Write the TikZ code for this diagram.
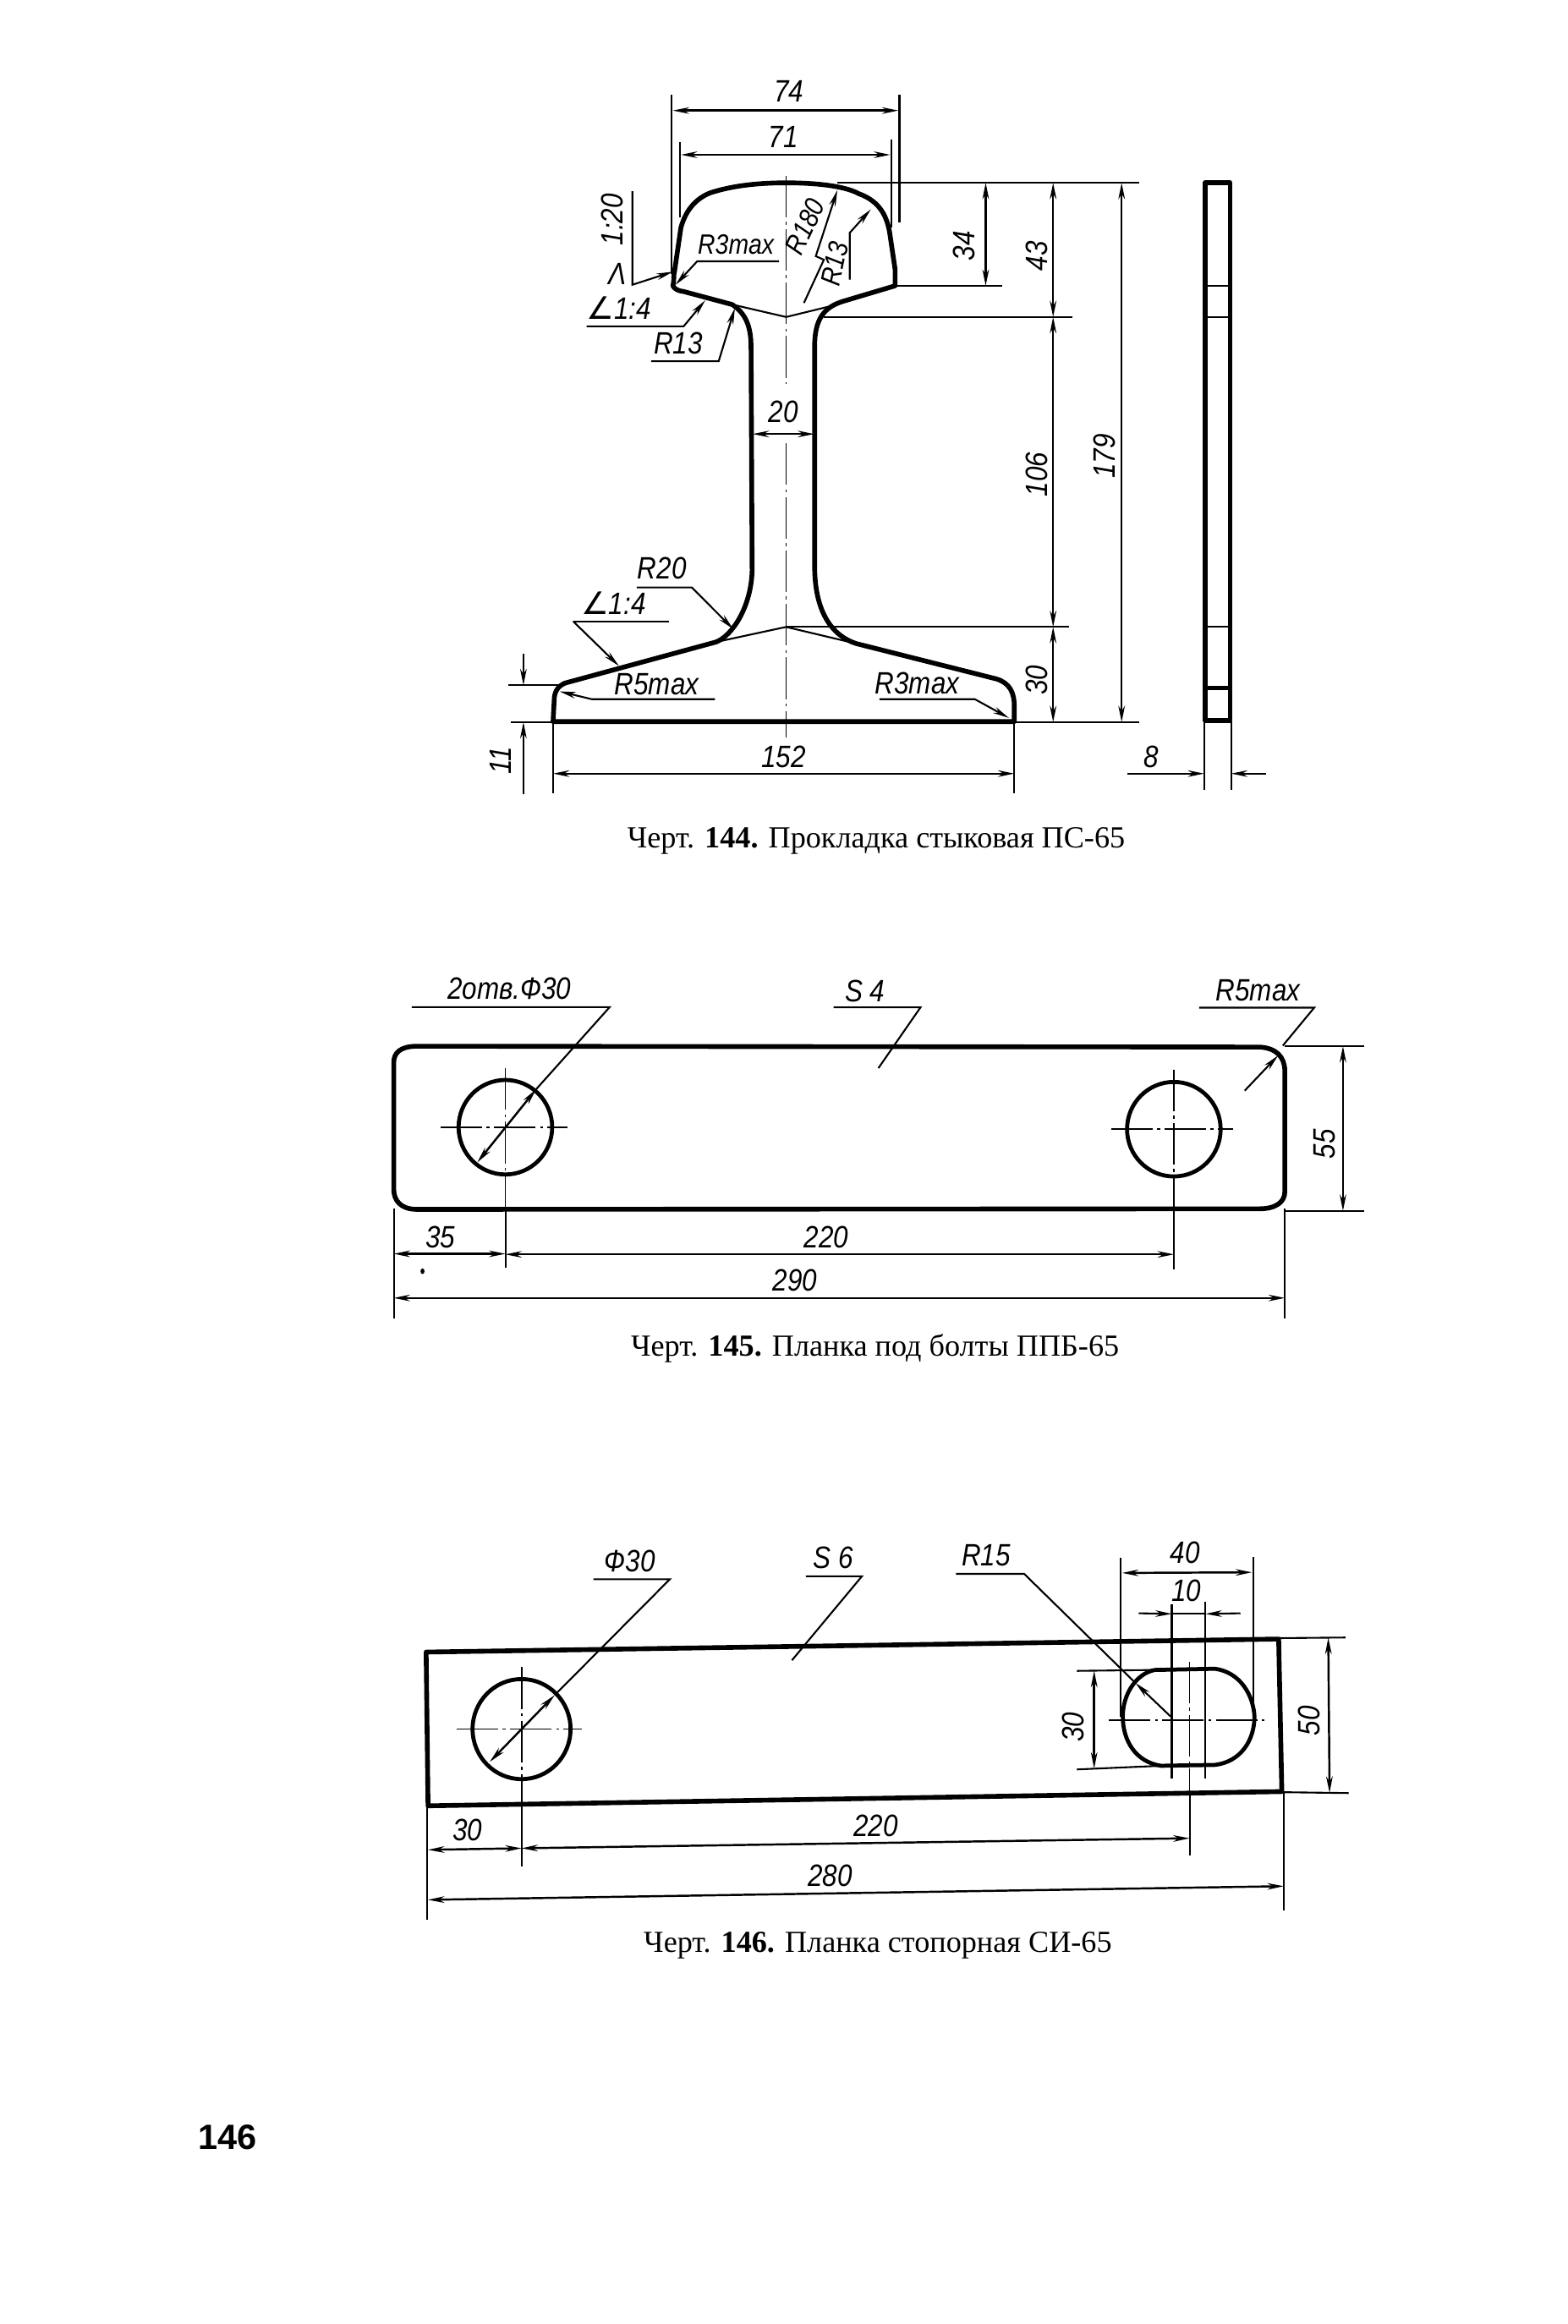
\documentclass[tikz,border=0pt]{standalone}
\usepackage{fontspec}
\setmainfont{Liberation Serif}
\setsansfont{Liberation Sans}[FakeStretch=0.86]
\newfontfamily\pagef{Liberation Sans}
\newfontfamily\symf{DejaVu Sans}
\usetikzlibrary{arrows.meta}
\tikzset{
  contour/.style={line width=1.6pt,line join=round,black},
  contourb/.style={line width=1.35pt,line join=round,black},
  thin line/.style={line width=0.6pt,black},
  centre line/.style={line width=0.5pt,black,dash pattern=on 14pt off 1.5pt on 1pt off 1.5pt},
  dimline/.style={line width=0.7pt,black,{Stealth[length=5.5pt,width=2.2pt]}-{Stealth[length=5.5pt,width=2.2pt]}},
  arrowline/.style={line width=0.6pt,black,-{Stealth[length=5.5pt,width=2.2pt]}},
  dimtxt/.style={font=\fontsize{10.4}{12}\selectfont\sffamily\itshape,inner sep=0pt},
  dimtxts/.style={font=\fontsize{9.4}{11}\selectfont\sffamily\itshape,inner sep=0pt},
  caption/.style={font=\fontsize{10.3}{12}\selectfont\rmfamily,inner sep=0pt},
}
\begin{document}
\begin{tikzpicture}
\path[use as bounding box,fill=white] (0,0) rectangle (18.53cm,-27.48cm);

% ---------- Drawing 144
\begin{scope}[shift={(5.5cm,-0.6cm)},x=0.00638cm,y=-0.00615cm]
\draw[contour] (385,452) .. controls (388,440) and (386,430) .. (388,425)
 -- (400,340) .. controls (408,310) and (425,285) .. (455,273)
 .. controls (500,258) and (550,254) .. (595,254)
 .. controls (640,254) and (700,258) .. (730,275)
 .. controls (770,290) and (782,320) .. (787,350)
 -- (797,420) -- (797,452)
 -- (700,482) .. controls (670,492) and (650,510) .. (648,560)
 -- (648,1000) .. controls (650,1080) and (680,1125) .. (725,1140)
 -- (985,1208) .. controls (1010,1216) and (1018,1235) .. (1018,1260)
 -- (1018,1290) -- (163,1290) -- (165,1250) .. controls (165,1232) and (172,1222) .. (185,1216)
 -- (465,1137) .. controls (495,1125) and (530,1070) .. (532,1000)
 -- (530,570) .. controls (530,530) and (520,505) .. (495,488)
 -- (405,463) .. controls (395,462) and (388,458) .. (385,452) -- cycle;
\draw[contour] (1372,254) rectangle (1418,1288);
\draw[contourb] (1372,1225) -- (1418,1225);
\foreach \yy in {452,512,1108} \draw[thin line] (1372,\yy) -- (1418,\yy);

% centre and construction lines
\draw[centre line] (595,240) -- (595,640);
\draw[centre line] (595,755) -- (595,1320);
\draw[thin line] (495,488) -- (595,512) -- (690,488);
\draw[thin line] (465,1137) -- (595,1108) -- (725,1140);
\draw[thin line] (690,254) -- (1250,254);
\draw[thin line] (797,452) -- (995,452);
\draw[thin line] (665,512) -- (1125,512);
\draw[thin line] (595,1108) -- (1120,1108);
\draw[thin line] (1018,1291) -- (1250,1291);
\draw[thin line] (383,85) -- (383,430);
\draw[thin line] (805,85) -- (805,330);
\draw[thin line] (398,175) -- (398,320);
\draw[thin line] (790,170) -- (790,340);
\draw[thin line] (163,1290) -- (163,1428);
\draw[thin line] (1018,1290) -- (1018,1428);
\draw[thin line] (80,1220) -- (178,1220);
\draw[thin line] (85,1291) -- (163,1291);
\draw[thin line] (1370,1290) -- (1370,1422);
\draw[thin line] (1420,1290) -- (1420,1422);

% dimensions
\draw[dimline] (385,115) -- (803,115);
\draw[dimline] (400,200) -- (788,200);
\draw[dimline] (965,254) -- (965,452);
\draw[dimline] (1090,254) -- (1090,512);
\draw[dimline] (1090,512) -- (1090,1108);
\draw[dimline] (1090,1108) -- (1090,1291);
\draw[dimline] (1217,254) -- (1217,1291);
\draw[dimline] (533,737) -- (647,737);
\draw[dimline] (163,1390) -- (1018,1390);
\draw[arrowline] (108,1160) -- (108,1220);
\draw[arrowline] (108,1430) -- (108,1291);
\draw[arrowline] (1228,1390) -- (1370,1390);
\draw[arrowline] (1485,1390) -- (1420,1390);

% leaders
\draw[arrowline] (310,270) -- (310,450) -- (385,425);
\draw[arrowline] (582,405) -- (430,405) -- (390,450);
\draw[arrowline] (225,530) -- (405,530) -- (445,480);
\draw[arrowline] (345,597) -- (470,597) -- (500,495);
\draw[arrowline] (628,485) -- (665,402) -- (650,395) -- (690,268);
\draw[arrowline] (713,440) -- (713,350) -- (752,305);
\draw[arrowline] (318,1032) -- (420,1032) -- (497,1112);
\draw[thin line] (200,1097) -- (378,1097);
\draw[arrowline] (200,1097) -- (285,1183);
\draw[arrowline] (463,1247) -- (235,1247) -- (175,1232);
\draw[arrowline] (768,1247) -- (945,1247) -- (1008,1283);

% texts
\node[dimtxt] (d74) at (600,78) {74};
\node[dimtxt] (d71) at (590,165) {71};
\node[dimtxt,rotate=90] (d34) at (925,375) {34};
\node[dimtxt,rotate=90] (d43) at (1060,395) {43};
\node[dimtxt,rotate=90] (d106) at (1060,815) {106};
\node[dimtxt,rotate=90] (d30) at (1060,1210) {30};
\node[dimtxt,rotate=90] (d179) at (1185,780) {179};
\node[dimtxt] (d20) at (590,695) {20};
\node[dimtxt] (d152) at (590,1358) {152};
\node[dimtxt,rotate=90] (d11) at (65,1365) {11};
\node[dimtxt] (d8) at (1272,1358) {8};
\node[dimtxt,rotate=90] (s120) at (272,325) {1:20};
\node[dimtxt] (slam) at (282,430) {Λ};
\node[dimtxts] (r3a) at (502,372) {R3max};
\node[dimtxt] (s14a) at (285,495) {{\symf ∠}1:4};
\node[dimtxt] (r13a) at (395,562) {R13};
\node[dimtxts,rotate=65] (r180) at (630,338) {R180};
\node[dimtxts,rotate=78] (r13b) at (685,410) {R13};
\node[dimtxt] (r20) at (365,995) {R20};
\node[dimtxt] (s14b) at (275,1062) {{\symf ∠}1:4};
\node[dimtxt] (r5) at (355,1218) {R5max};
\node[dimtxt] (r3b) at (838,1217) {R3max};
\node[caption] (cap144) at (762,1520) {Черт. \textbf{144.} Прокладка стыковая ПС-65};
\end{scope}

% ---------- Drawing 145
\begin{scope}[shift={(4.3cm,-11.2cm)},x=0.0079cm,y=-0.00333cm]
\draw[contour] (45,410) .. controls (45,375) and (55,352) .. (80,352)
 -- (1340,355) .. controls (1365,358) and (1378,390) .. (1378,440)
 -- (1378,870) .. controls (1378,905) and (1365,930) .. (1340,930)
 -- (80,932) .. controls (55,932) and (45,900) .. (45,860) -- cycle;
\draw[contourb] (212,640) ellipse [x radius=70,y radius=168];
\draw[contourb] (1212,647) ellipse [x radius=70,y radius=168];
\draw[centre line] (115,640) -- (305,640);
\draw[centre line] (1118,647) -- (1300,647);
\draw[centre line] (212,430) -- (212,930);
\draw[thin line] (212,930) -- (212,1138);
\draw[centre line] (1212,435) -- (1212,930);
\draw[thin line] (1212,930) -- (1212,1145);
\draw[thin line] (72,213) -- (368,213) -- (258,505);
\draw[dimline] (258,505) -- (170,765);
\draw[thin line] (703,214) -- (833,214) -- (770,430);
\draw[thin line] (1250,215) -- (1422,215) -- (1375,350);
\draw[arrowline] (1318,510) -- (1368,385);
\draw[thin line] (1378,352) -- (1497,352);
\draw[thin line] (1378,937) -- (1497,937);
\draw[dimline] (1465,352) -- (1465,937);
\draw[thin line] (45,930) -- (45,1320);
\draw[thin line] (1378,930) -- (1378,1320);
\draw[dimline] (45,1090) -- (212,1090);
\draw[dimline] (212,1092) -- (1212,1092);
\draw[dimline] (45,1247) -- (1378,1247);
\fill[black] (88,1152) ellipse [x radius=3,y radius=10];
\node[dimtxt] (t2otv) at (218,148) {2отв.Ф30};
\node[dimtxt] (ts4) at (750,155) {S 4};
\node[dimtxt] (tr5) at (1338,155) {R5max};
\node[dimtxt,rotate=90] (t55) at (1438,700) {55};
\node[dimtxt] (t35) at (115,1030) {35};
\node[dimtxt] (t220) at (692,1030) {220};
\node[dimtxt] (t290) at (645,1185) {290};
\node[caption] (cap145) at (765,1425) {Черт. \textbf{145.} Планка под болты ППБ-65};
\end{scope}

% ---------- Drawing 146
\begin{scope}[shift={(4.7cm,-18cm)},x=0.00752cm,y=-0.00359cm]
\draw[contour] (45,428) -- (1385,385) -- (1390,888) -- (48,935) -- cycle;
\draw[contourb] (195,682) ellipse [x radius=77,y radius=165];
\draw[contourb] (1190,487) -- (1285,483) .. controls (1325,495) and (1345,570) .. (1347,640)
 .. controls (1347,720) and (1325,790) .. (1285,800) -- (1200,803)
 .. controls (1160,790) and (1140,720) .. (1140,640)
 .. controls (1140,570) and (1160,500) .. (1190,487) -- cycle;
\draw[centre line] (93,682) -- (290,682);
\draw[centre line] (195,478) -- (195,935);
\draw[thin line] (195,935) -- (195,1135);
\draw[centre line] (1118,652) -- (1362,652);
\draw[centre line] (1245,460) -- (1245,890);
\draw[thin line] (1245,890) -- (1245,1100);
\draw[thin line] (1217,270) -- (1217,845);
\draw[thin line] (1270,262) -- (1270,845);
\draw[thin line] (1137,118) -- (1137,640);
\draw[thin line] (1345,115) -- (1345,640);
\draw[thin line] (308,188) -- (428,188) -- (247,570);
\draw[dimline] (247,570) -- (145,790);
\draw[thin line] (642,178) -- (730,178) -- (620,455);
\draw[thin line] (878,170) -- (985,170) -- (1160,530);
\draw[arrowline] (1215,640) -- (1160,530);
\draw[dimline] (1139,167) -- (1343,165);
\draw[arrowline] (1165,300) -- (1217,302);
\draw[arrowline] (1325,300) -- (1270,302);
\draw[thin line] (1217,302) -- (1270,302);
\draw[thin line] (1068,490) -- (1190,487);
\draw[thin line] (1068,815) -- (1200,803);
\draw[dimline] (1095,490) -- (1095,812);
\draw[thin line] (1385,382) -- (1490,380);
\draw[thin line] (1390,890) -- (1495,893);
\draw[dimline] (1463,381) -- (1465,892);
\draw[thin line] (47,935) -- (47,1310);
\draw[thin line] (1393,890) -- (1393,1280);
\draw[dimline] (48,1080) -- (195,1075);
\draw[dimline] (195,1075) -- (1245,1042);
\draw[dimline] (48,1245) -- (1393,1200);
\node[dimtxt] (tf30) at (365,128) {Ф30};
\node[dimtxt] (ts6) at (685,118) {S 6};
\node[dimtxt] (tr15) at (925,108) {R15};
\node[dimtxt] (t40) at (1238,100) {40};
\node[dimtxt] (t10) at (1240,225) {10};
\node[dimtxt,rotate=90] (t30v) at (1062,675) {30};
\node[dimtxt,rotate=90] (t50) at (1433,655) {50};
\node[dimtxt] (t30h) at (110,1015) {30};
\node[dimtxt] (t220b) at (752,1000) {220};
\node[dimtxt] (t280) at (680,1165) {280};
\node[caption] (cap146) at (755,1395) {Черт. \textbf{146.} Планка стопорная СИ-65};
\end{scope}

\node[font=\fontsize{11.8}{14}\selectfont\pagef\bfseries,inner sep=0pt] (page) at (2.69cm,-25.27cm) {146};
\end{tikzpicture}
\end{document}
